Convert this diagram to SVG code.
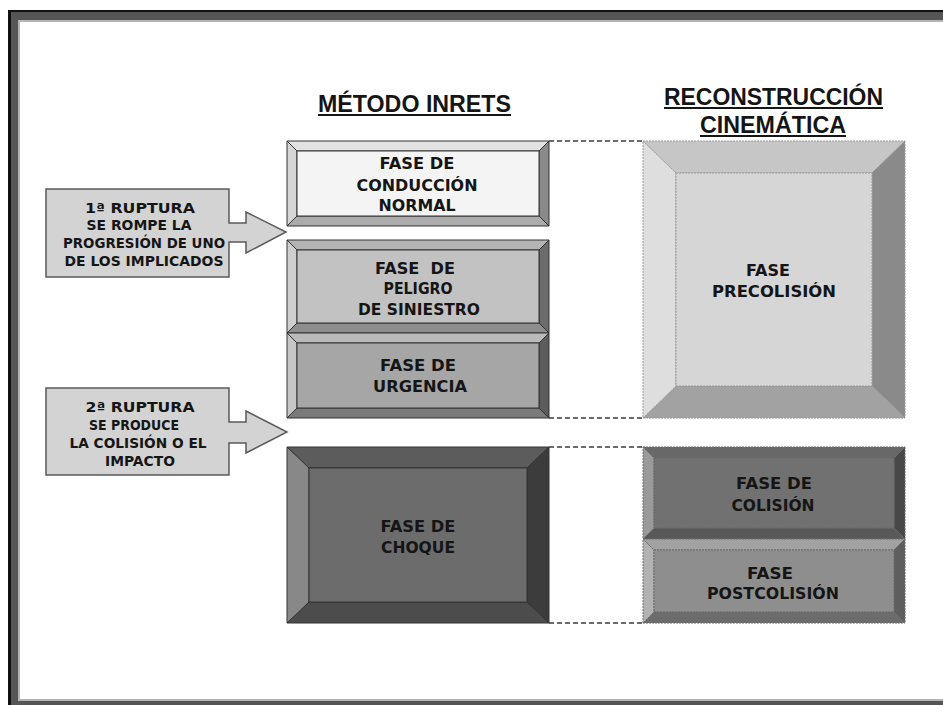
<svg xmlns="http://www.w3.org/2000/svg" width="943" height="705" viewBox="0 0 943 705">
  <style>
    text { font-family: "DejaVu Sans", "Liberation Sans", sans-serif; font-weight: bold; fill: #151515; }
    .head { font-family: "Liberation Sans", Arial, sans-serif; font-size: 24px; }
    .lbl { font-size: 15px; text-anchor: middle; }
    .call { font-size: 14px; text-anchor: middle; }
    .edge { stroke: #333; stroke-width: 1; }
    .dash { stroke: #3a3a3a; stroke-width: 1.6; stroke-dasharray: 5 3; fill: none; }
    .callout { fill: #d3d3d3; stroke: #5a5a5a; stroke-width: 1.5; }
    .ul { stroke: #151515; stroke-width: 2; }
  </style>

  <!-- page frame -->
  <rect x="8" y="10" width="960" height="720" fill="#111"/>
  <rect x="11" y="12" width="960" height="720" fill="#555"/>
  <rect x="18" y="20" width="960" height="681" fill="#b4b4b4"/>
  <rect x="20" y="22" width="960" height="677" fill="#fff"/>

  <!-- column headings -->
  <g id="heading-inrets">
    <text class="head" x="318" y="112" textLength="193" lengthAdjust="spacingAndGlyphs">MÉTODO INRETS</text>
    <line class="ul" x1="318" y1="115" x2="511" y2="115"/>
  </g>
  <g id="heading-reconstruccion">
    <text class="head" x="664" y="105" textLength="219" lengthAdjust="spacingAndGlyphs">RECONSTRUCCIÓN</text>
    <line class="ul" x1="664" y1="108" x2="883" y2="108"/>
    <text class="head" x="700" y="133" textLength="146" lengthAdjust="spacingAndGlyphs">CINEMÁTICA</text>
    <line class="ul" x1="700" y1="136" x2="846" y2="136"/>
  </g>

  <!-- connectors -->
  <g id="connectors">
    <line class="dash" x1="549" y1="141" x2="643" y2="141"/>
    <line class="dash" x1="549" y1="418" x2="643" y2="418"/>
    <line class="dash" x1="549" y1="447" x2="643" y2="447"/>
    <line class="dash" x1="549" y1="623" x2="643" y2="623"/>
  </g>

  <!-- bevelled boxes: top / right / bottom / left bevels, then face -->
  <g id="fase-conduccion-normal" class="edge">
    <polygon points="287,141 549,141 539,151 297,151" fill="#e2e2e2"/>
    <polygon points="549,141 549,226 539,216 539,151" fill="#8a8a8a"/>
    <polygon points="287,226 549,226 539,216 297,216" fill="#acacac"/>
    <polygon points="287,141 297,151 297,216 287,226" fill="#d6d6d6"/>
    <rect x="297" y="151" width="242" height="65" fill="#f4f4f4"/>
    <text class="lbl" x="417" y="169" textLength="75" lengthAdjust="spacingAndGlyphs" stroke="none">FASE DE</text>
    <text class="lbl" x="417" y="191" textLength="121" lengthAdjust="spacingAndGlyphs" stroke="none">CONDUCCIÓN</text>
    <text class="lbl" x="417" y="211" textLength="77" lengthAdjust="spacingAndGlyphs" stroke="none">NORMAL</text>
  </g>

  <g id="fase-peligro" class="edge">
    <polygon points="287,240 549,240 539,250 297,250" fill="#b4b4b4"/>
    <polygon points="549,240 549,333 539,323 539,250" fill="#6c6c6c"/>
    <polygon points="287,333 549,333 539,323 297,323" fill="#8e8e8e"/>
    <polygon points="287,240 297,250 297,323 287,333" fill="#cfcfcf"/>
    <rect x="297" y="250" width="242" height="73" fill="#c2c2c2"/>
    <text class="lbl" x="415" y="274" textLength="80" lengthAdjust="spacingAndGlyphs" stroke="none" xml:space="preserve">FASE  DE</text>
    <text class="lbl" x="418" y="294" textLength="69" lengthAdjust="spacingAndGlyphs" stroke="none">PELIGRO</text>
    <text class="lbl" x="419" y="315" textLength="122" lengthAdjust="spacingAndGlyphs" stroke="none">DE SINIESTRO</text>
  </g>

  <g id="fase-urgencia" class="edge">
    <polygon points="287,333 549,333 539,343 297,343" fill="#bababa"/>
    <polygon points="549,333 549,418 539,408 539,343" fill="#5c5c5c"/>
    <polygon points="287,418 549,418 539,408 297,408" fill="#7a7a7a"/>
    <polygon points="287,333 297,343 297,408 287,418" fill="#c6c6c6"/>
    <rect x="297" y="343" width="242" height="65" fill="#a6a6a6"/>
    <text class="lbl" x="418" y="371" textLength="76" lengthAdjust="spacingAndGlyphs" stroke="none">FASE DE</text>
    <text class="lbl" x="420" y="392" textLength="94" lengthAdjust="spacingAndGlyphs" stroke="none">URGENCIA</text>
  </g>

  <g id="fase-choque" class="edge">
    <polygon points="287,447 549,447 527,468 309,468" fill="#5c5c5c"/>
    <polygon points="549,447 549,623 527,602 527,468" fill="#3c3c3c"/>
    <polygon points="287,623 549,623 527,602 309,602" fill="#4c4c4c"/>
    <polygon points="287,447 309,468 309,602 287,623" fill="#888"/>
    <rect x="309" y="468" width="218" height="134" fill="#6c6c6c"/>
    <text class="lbl" x="418" y="532" textLength="75" lengthAdjust="spacingAndGlyphs" stroke="none">FASE DE</text>
    <text class="lbl" x="418" y="553" textLength="74" lengthAdjust="spacingAndGlyphs" stroke="none">CHOQUE</text>
  </g>

  <g id="fase-precolision" stroke="#9a9a9a" stroke-width="1" stroke-dasharray="2 1">
    <polygon points="643,141 905,141 872,173 676,173" fill="#c6c6c6"/>
    <polygon points="905,141 905,418 872,386 872,173" fill="#8a8a8a"/>
    <polygon points="643,418 905,418 872,386 676,386" fill="#a2a2a2"/>
    <polygon points="643,141 676,173 676,386 643,418" fill="#dedede"/>
    <rect x="676" y="173" width="196" height="213" fill="#d6d6d6"/>
    <text class="lbl" x="768" y="276" textLength="44" lengthAdjust="spacingAndGlyphs" stroke="none">FASE</text>
    <text class="lbl" x="774" y="297" textLength="124" lengthAdjust="spacingAndGlyphs" stroke="none">PRECOLISIÓN</text>
  </g>

  <g id="fase-colision" stroke="#6a6a6a" stroke-width="1" stroke-dasharray="2 1">
    <polygon points="643,447 905,447 894,458 654,458" fill="#686868"/>
    <polygon points="905,447 905,539 894,528 894,458" fill="#484848"/>
    <polygon points="643,539 905,539 894,528 654,528" fill="#585858"/>
    <polygon points="643,447 654,458 654,528 643,539" fill="#9a9a9a"/>
    <rect x="654" y="458" width="240" height="70" fill="#717171"/>
    <text class="lbl" x="774" y="489" textLength="76" lengthAdjust="spacingAndGlyphs" stroke="none">FASE DE</text>
    <text class="lbl" x="773" y="511" textLength="83" lengthAdjust="spacingAndGlyphs" stroke="none">COLISIÓN</text>
  </g>

  <g id="fase-postcolision" stroke="#6a6a6a" stroke-width="1" stroke-dasharray="2 1">
    <polygon points="643,539 905,539 894,550 654,550" fill="#a2a2a2"/>
    <polygon points="905,539 905,623 894,612 894,550" fill="#5e5e5e"/>
    <polygon points="643,623 905,623 894,612 654,612" fill="#6c6c6c"/>
    <polygon points="643,539 654,550 654,612 643,623" fill="#b2b2b2"/>
    <rect x="654" y="550" width="240" height="62" fill="#8e8e8e"/>
    <text class="lbl" x="770" y="579" textLength="46" lengthAdjust="spacingAndGlyphs" stroke="none">FASE</text>
    <text class="lbl" x="773" y="599" textLength="132" lengthAdjust="spacingAndGlyphs" stroke="none">POSTCOLISIÓN</text>
  </g>

  <!-- rupture callouts -->
  <g id="ruptura-1">
    <path class="callout" d="M46,189 H229 V223 H246 V212 L286,232 L246,253 V242 H229 V277 H46 Z"/>
    <text class="call" x="140" y="213" textLength="110" lengthAdjust="spacingAndGlyphs">1ª RUPTURA</text>
    <text class="call" x="139" y="230" textLength="105" lengthAdjust="spacingAndGlyphs">SE ROMPE LA</text>
    <text class="call" x="144" y="248" textLength="162" lengthAdjust="spacingAndGlyphs">PROGRESIÓN DE UNO</text>
    <text class="call" x="144" y="266" textLength="159" lengthAdjust="spacingAndGlyphs">DE LOS IMPLICADOS</text>
  </g>

  <g id="ruptura-2">
    <path class="callout" d="M46,388 H229 V422 H246 V411 L287,432 L246,453 V443 H229 V475 H46 Z"/>
    <text class="call" x="140" y="412" textLength="109" lengthAdjust="spacingAndGlyphs">2ª RUPTURA</text>
    <text class="call" x="134" y="430" textLength="90" lengthAdjust="spacingAndGlyphs">SE PRODUCE</text>
    <text class="call" x="138" y="448" textLength="137" lengthAdjust="spacingAndGlyphs">LA COLISIÓN O EL</text>
    <text class="call" x="140" y="466" textLength="70" lengthAdjust="spacingAndGlyphs">IMPACTO</text>
  </g>
</svg>
